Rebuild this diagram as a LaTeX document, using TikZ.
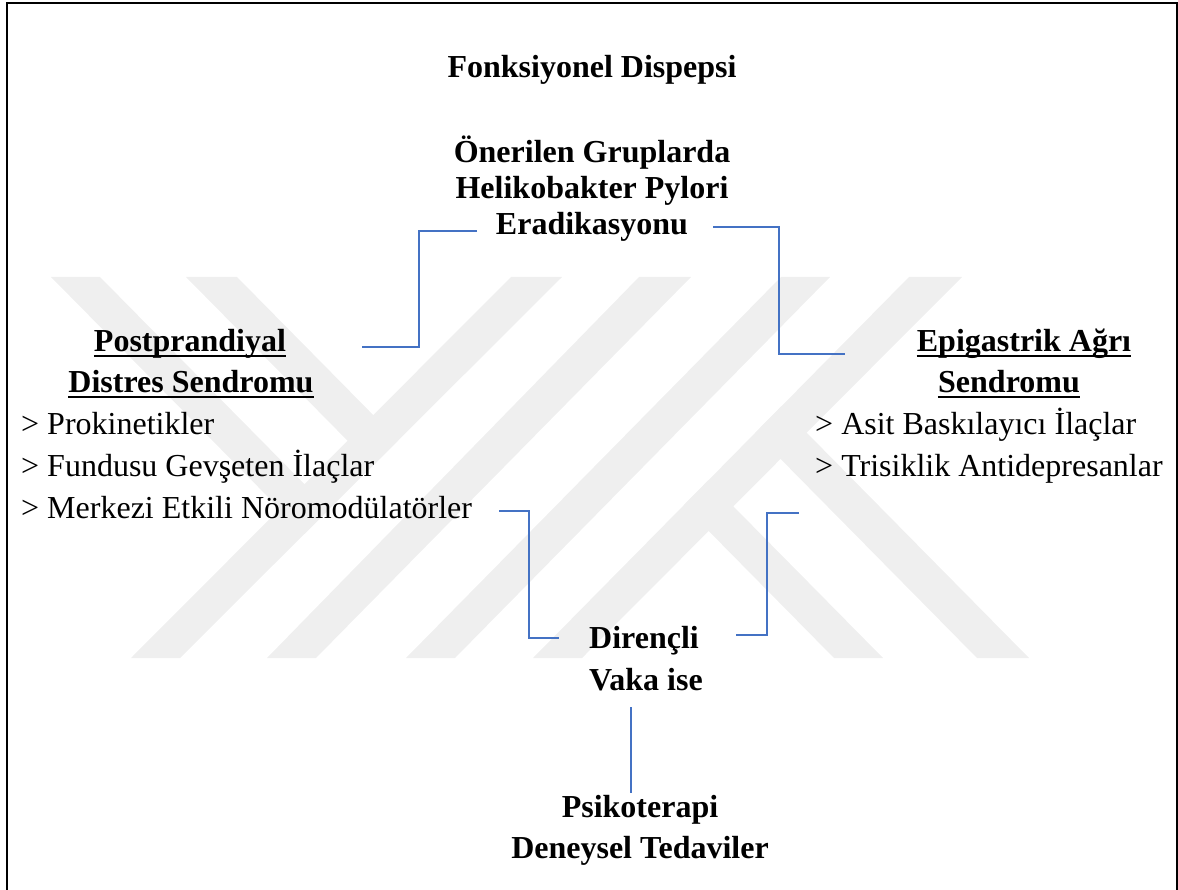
\documentclass[tikz,border=0pt]{standalone}
\usepackage{fontspec}
\setmainfont{Liberation Serif}
\definecolor{wmgray}{RGB}{239,239,239}
\definecolor{connblue}{RGB}{68,114,196}
\begin{document}
\begin{tikzpicture}[x=1pt,y=-1pt,
  txt/.style={inner sep=0pt,font=\fontsize{32}{37}\selectfont},
  bld/.style={inner sep=0pt,font=\fontsize{32}{37}\selectfont\bfseries},
  conn/.style={draw=connblue,line width=1.1pt},
  uline/.style={line width=2.2pt},
  wm/.style={fill=wmgray}]
\useasboundingbox (0,0) rectangle (1178,890);
% ---------- watermark ----------
\coordinate (s1lt) at (51,277);  \coordinate (s1lb) at (427,658);
\coordinate (s1rt) at (100,277); \coordinate (s1rb) at (476,658);
\coordinate (s2lt) at (186,277); \coordinate (s2lb) at (562,658);
\coordinate (s2rt) at (237,277); \coordinate (s2rb) at (613,658);
\coordinate (s3lt) at (511,277); \coordinate (s3lb) at (131,658);
\coordinate (s3rt) at (562,277); \coordinate (s3rb) at (180,658);
\coordinate (s4lt) at (639,277); \coordinate (s4lb) at (267,658);
\coordinate (s4rt) at (691,277); \coordinate (s4rb) at (316,658);
\coordinate (s5lt) at (781,277); \coordinate (s5lb) at (406,658);
\coordinate (s5rt) at (830,277); \coordinate (s5rb) at (455,658);
\coordinate (s6lt) at (909,277); \coordinate (s6lb) at (533,658);
\coordinate (s6rt) at (962,277); \coordinate (s6rb) at (582,658);
\coordinate (t1lb) at (834,658); \coordinate (t1lt) at (458,277);
\coordinate (t1rb) at (883,658); \coordinate (t1rt) at (507,277);
\coordinate (t2lb) at (977,658); \coordinate (t2lt) at (601,277);
\coordinate (t2rb) at (1029,658); \coordinate (t2rt) at (653,277);
\foreach \s in {s3,s4,s5,s6}{
  \fill[wm] (\s lt) -- (\s rt) -- (\s rb) -- (\s lb) -- cycle;}
\fill[wm] (s2lt) -- (s2rt) -- (intersection of s2rt--s2rb and s3rt--s3rb)
  -- (intersection of s2lt--s2lb and s3rt--s3rb) -- cycle;
\fill[wm] (s1lt) -- (s1rt) -- (intersection of s1rt--s1rb and s3rt--s3rb)
  -- (intersection of s1lt--s1lb and s3rt--s3rb) -- cycle;
\fill[wm] (t1lb) -- (t1rb) -- (intersection of t1rb--t1rt and s6lt--s6lb)
  -- (intersection of t1lb--t1lt and s6lt--s6lb) -- cycle;
\fill[wm] (t2lb) -- (t2rb) -- (intersection of t2rb--t2rt and s6lt--s6lb)
  -- (intersection of t2lb--t2lt and s6lt--s6lb) -- cycle;
% ---------- frame ----------
\draw[line width=2pt] (7,892) -- (7,3) -- (1177,3) -- (1177,892);
% ---------- texts ----------
\node[bld,anchor=base] (title) at (592,78) {Fonksiyonel Dispepsi};
\node[bld,anchor=base] (hp1) at (592,163) {Önerilen Gruplarda};
\node[bld,anchor=base] (hp2) at (592,199) {Helikobakter Pylori};
\node[bld,anchor=base] (hp3) at (592,235) {Eradikasyonu};
\node[bld,anchor=base] (pds1) at (190,352) {Postprandiyal};
\node[bld,anchor=base] (pds2) at (191,393) {Distres Sendromu};
\node[txt,anchor=base west] (pl1) at (21,434) {> Prokinetikler};
\node[txt,anchor=base west] (pl2) at (21,476) {> Fundusu Gevşeten İlaçlar};
\node[txt,anchor=base west] (pl3) at (21,518) {> Merkezi Etkili Nöromodülatörler};
\node[bld,anchor=base] (eas1) at (1024,352) {Epigastrik Ağrı};
\node[bld,anchor=base] (eas2) at (1009,393) {Sendromu};
\node[txt,anchor=base west] (el1) at (815,434) {> Asit Baskılayıcı İlaçlar};
\node[txt,anchor=base west] (el2) at (815,476) {> Trisiklik Antidepresanlar};
\node[bld,anchor=base] (dv1) at (644,648) {Dirençli};
\node[bld,anchor=base] (dv2) at (646,690) {Vaka ise};
\node[bld,anchor=base] (pt1) at (640,817) {Psikoterapi};
\node[bld,anchor=base] (pt2) at (640,858) {Deneysel Tedaviler};
% underlines
\foreach \n in {pds1,pds2,eas1,eas2}{
  \draw[uline] ([yshift=-4pt]\n.base west) -- ([yshift=-4pt]\n.base east);}
% ---------- connectors ----------
\coordinate (c1a) at (477,231); \coordinate (c1b) at (362,347);
\coordinate (c2a) at (713,227); \coordinate (c2b) at (845,354);
\coordinate (c3a) at (499,511); \coordinate (c3b) at (559,638);
\coordinate (c4a) at (799,513); \coordinate (c4b) at (736,635);
\coordinate (c5a) at (631,707); \coordinate (c5b) at (631,793);
\draw[conn] (c1a) -- ++(-58,0) |- (c1b);
\draw[conn] (c2a) -- ++(66,0) |- (c2b);
\draw[conn] (c3a) -- ++(30,0) |- (c3b);
\draw[conn] (c4a) -- ++(-32,0) |- (c4b);
\draw[conn] (c5a) -- (c5b);
\end{tikzpicture}
\end{document}
